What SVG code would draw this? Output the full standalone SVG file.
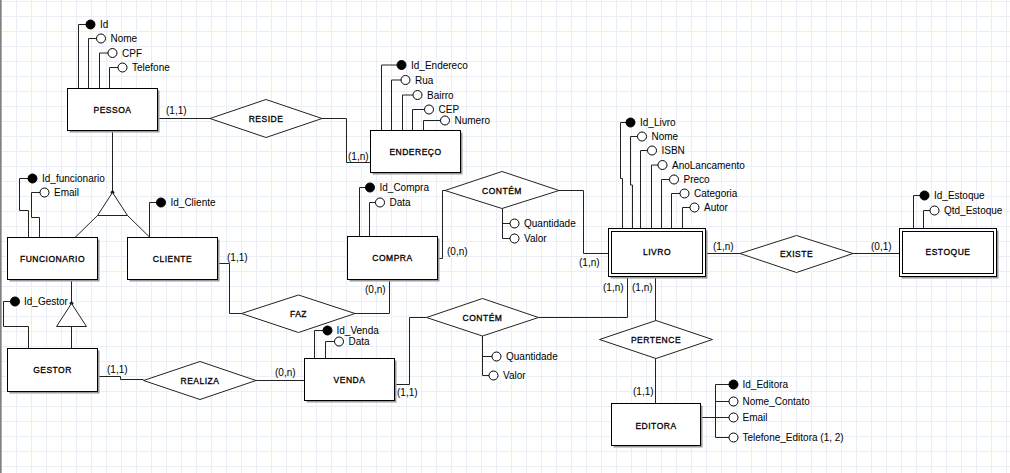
<svg xmlns="http://www.w3.org/2000/svg" width="1010" height="473" viewBox="0 0 1010 473">
<defs>
<pattern id="grid" width="15" height="15" patternUnits="userSpaceOnUse" x="1" y="1">
<path d="M15 0.5H0.5V15" fill="none" stroke="#eaeff7" stroke-width="1"/>
</pattern>
<style>
text{font-family:"Liberation Sans",Arial,sans-serif;fill:#000}
.en{font-size:8.5px;letter-spacing:0.5px;text-anchor:middle;stroke:#000;stroke-width:0.3}
.at{font-size:10px}
.cd{font-size:10px}
.box{fill:#fff;stroke:#000;stroke-width:1}
.sh{fill:#9a9a9a}
.rel{fill:#fff;stroke:#222;stroke-width:1}
.ln{fill:none;stroke:#222;stroke-width:1}
.pk{fill:#000;stroke:#000;stroke-width:1}
.op{fill:#fff;stroke:#000;stroke-width:1}
</style>
</defs>
<rect width="1010" height="473" fill="#fff"/>
<rect width="1010" height="473" fill="url(#grid)"/>
<rect x="0" y="0" width="1.6" height="473" fill="#808080"/>

<g id="connectors" class="ln">
<path d="M157.5 118.5H210"/>
<path d="M322 118.5H346.5V162.5H370.5"/>
<path d="M112.5 130.5V192.5"/>
<path d="M97.5 215.5L75 237.5"/>
<path d="M127.5 215.5L150 237.5"/>
<path d="M71.5 279.5V303.5"/>
<path d="M71.5 326.5V348.5"/>
<path d="M437.5 258.5H442.5V190.5H445"/>
<path d="M559 190.5H583.5V253.5H608.5"/>
<path d="M706 253.5H740"/>
<path d="M853 253.5H899.5"/>
<path d="M217.5 263.5H229.5V313.5H241.5"/>
<path d="M355 313.5H389.5V279.5"/>
<path d="M97.5 376.5H120.5V379.5H143.5"/>
<path d="M256 380.5H304.5"/>
<path d="M394.5 384.5H409.5V317.5H426.5"/>
<path d="M538.5 317.5H627.5V276.5"/>
<path d="M655.5 276.5V320.5"/>
<path d="M655.5 358.5V403.5"/>
<circle cx="112.5" cy="192.5" r="1.5" fill="#000"/>
<circle cx="71.5" cy="303.5" r="1.5" fill="#000"/>
</g>
<g id="card-labels" class="cd">
<text x="166" y="114">(1,1)</text>
<text x="348" y="160">(1,n)</text>
<text x="447" y="255">(0,n)</text>
<text x="579" y="266">(1,n)</text>
<text x="713" y="250">(1,n)</text>
<text x="871" y="250">(0,1)</text>
<text x="227" y="261">(1,1)</text>
<text x="365" y="293">(0,n)</text>
<text x="107" y="373">(1,1)</text>
<text x="275" y="376">(0,n)</text>
<text x="397" y="396">(1,1)</text>
<text x="603" y="291">(1,n)</text>
<text x="632" y="291">(1,n)</text>
<text x="633" y="395">(1,1)</text>
</g>

<g id="pessoa">
<path class="ln" d="M78.5 88.5V24.5H86M88.5 88.5V38.5H96.5M99.5 88.5V53H108M109.5 88.5V67.5H118"/>
<circle class="pk" cx="90.5" cy="24.5" r="4.5"/><text class="at" x="100" y="28">Id</text>
<circle class="op" cx="101" cy="38.5" r="4.5"/><text class="at" x="110.5" y="42">Nome</text>
<circle class="op" cx="112.5" cy="53" r="4.5"/><text class="at" x="122" y="56.5">CPF</text>
<circle class="op" cx="122.5" cy="67.5" r="4.5"/><text class="at" x="132" y="71">Telefone</text>
<rect class="sh" x="69.5" y="90.5" width="90" height="42"/>
<rect class="box" x="67.5" y="88.5" width="90" height="42"/>
<text class="en" x="112.5" y="112.5">PESSOA</text>
</g>

<g id="reside">
<polygon class="rel" points="210,118.5 266,99.5 322,118.5 266,137.5"/>
<text class="en" x="266" y="121.5">RESIDE</text>
</g>

<g id="endereco">
<path class="ln" d="M381.5 130.5V65H397M391.5 130.5V80H401M402.5 130.5V95H413M412.5 130.5V109.5H424.5M423.5 130.5V120.5H440.5"/>
<circle class="pk" cx="401.5" cy="65" r="4.5"/><text class="at" x="411" y="68.5">Id_Endereco</text>
<circle class="op" cx="405.5" cy="80" r="4.5"/><text class="at" x="415" y="83.5">Rua</text>
<circle class="op" cx="417.5" cy="95" r="4.5"/><text class="at" x="427" y="98.5">Bairro</text>
<circle class="op" cx="429" cy="109.5" r="4.5"/><text class="at" x="438.5" y="113">CEP</text>
<circle class="op" cx="445" cy="120.5" r="4.5"/><text class="at" x="454.5" y="124">Numero</text>
<rect class="sh" x="372.5" y="132.5" width="90" height="42"/>
<rect class="box" x="370.5" y="130.5" width="90" height="42"/>
<text class="en" x="415.5" y="154.5">ENDEREÇO</text>
</g>

<g id="funcionario">
<path class="ln" d="M28.5 237.5V210.5H19.5V178.5H28M39.5 237.5V217.5H31.5V192.5H40"/>
<circle class="pk" cx="32.5" cy="178.5" r="4.5"/><text class="at" x="42" y="182">Id_funcionario</text>
<circle class="op" cx="44.5" cy="192.5" r="4.5"/><text class="at" x="54" y="196">Email</text>
<rect class="sh" x="9.5" y="239.5" width="90" height="42"/>
<rect class="box" x="7.5" y="237.5" width="90" height="42"/>
<text class="en" x="52.5" y="261.5">FUNCIONARIO</text>
</g>

<g id="heranca-pessoa">
<polygon class="rel" points="112.5,192.5 127.5,215.5 97.5,215.5"/>
</g>

<g id="cliente">
<path class="ln" d="M149.5 237.5V202.5H156.5"/>
<circle class="pk" cx="161" cy="202.5" r="4.5"/><text class="at" x="170.5" y="206">Id_Cliente</text>
<rect class="sh" x="129.5" y="239.5" width="90" height="42"/>
<rect class="box" x="127.5" y="237.5" width="90" height="42"/>
<text class="en" x="172.5" y="261.5">CLIENTE</text>
</g>

<g id="heranca-funcionario">
<polygon class="rel" points="71.5,303.5 86.5,326.5 56.5,326.5"/>
</g>

<g id="gestor">
<path class="ln" d="M28.5 348.5V326.5H3.5V301.5H10.5"/>
<circle class="pk" cx="15" cy="301.5" r="4.5"/><text class="at" x="24" y="305">Id_Gestor</text>
<rect class="sh" x="9.5" y="350.5" width="90" height="43"/>
<rect class="box" x="7.5" y="348.5" width="90" height="43"/>
<text class="en" x="52.5" y="373">GESTOR</text>
</g>

<g id="realiza">
<polygon class="rel" points="143.5,380.5 200,361.5 256,380.5 200,399.5"/>
<text class="en" x="200" y="383.5">REALIZA</text>
</g>

<g id="faz">
<polygon class="rel" points="241.5,313.5 298.5,295 355,313.5 298.5,332.5"/>
<text class="en" x="298.5" y="317">FAZ</text>
</g>

<g id="compra">
<path class="ln" d="M359.5 236.5V187.5H365.5M369.5 236.5V202.5H375.5"/>
<circle class="pk" cx="370" cy="187.5" r="4.5"/><text class="at" x="379.5" y="191">Id_Compra</text>
<circle class="op" cx="380" cy="202.5" r="4.5"/><text class="at" x="389.5" y="206">Data</text>
<rect class="sh" x="349.5" y="238.5" width="90" height="43"/>
<rect class="box" x="347.5" y="236.5" width="90" height="43"/>
<text class="en" x="392.5" y="261">COMPRA</text>
</g>

<g id="contem-compra">
<path class="ln" d="M502.5 208.5V238.5H510M502.5 223.5H510"/>
<polygon class="rel" points="445,190.5 502,171.5 559,190.5 502,208.5"/>
<text class="en" x="502" y="193.5">CONTÉM</text>
<circle class="op" cx="514.5" cy="223.5" r="4.5"/><text class="at" x="524" y="227">Quantidade</text>
<circle class="op" cx="514.5" cy="238.5" r="4.5"/><text class="at" x="524" y="242">Valor</text>
</g>

<g id="venda">
<path class="ln" d="M314.5 358.5V330.5H323M325.5 358.5V341.5H334.5"/>
<circle class="pk" cx="327.5" cy="330.5" r="4.5"/><text class="at" x="336.5" y="334">Id_Venda</text>
<circle class="op" cx="339" cy="341.5" r="4.5"/><text class="at" x="348.5" y="345">Data</text>
<rect class="sh" x="306.5" y="360.5" width="90" height="42"/>
<rect class="box" x="304.5" y="358.5" width="90" height="42"/>
<text class="en" x="349.5" y="383">VENDA</text>
</g>

<g id="contem-venda">
<path class="ln" d="M482.5 336V375.5H489M482.5 356.5H492"/>
<polygon class="rel" points="426.5,317.5 482.5,298.5 538.5,317.5 482.5,336"/>
<text class="en" x="482.5" y="320.5">CONTÉM</text>
<circle class="op" cx="496.5" cy="356.5" r="4.5"/><text class="at" x="506" y="360">Quantidade</text>
<circle class="op" cx="493.5" cy="375.5" r="4.5"/><text class="at" x="503" y="379">Valor</text>
</g>

<g id="livro">
<path class="ln" d="M622.5 228.5V178.5H620.5V122.5H626M632.5 228.5V185H630.5V136.5H637.5M640.5 228.5V150.5H647.5M651.5 228.5V165H658M661.5 228.5V179.5H669.5M671.5 228.5V193.5H680M682.5 228.5V207.5H690"/>
<circle class="pk" cx="630.5" cy="122.5" r="4.5"/><text class="at" x="640" y="126">Id_Livro</text>
<circle class="op" cx="642" cy="136.5" r="4.5"/><text class="at" x="651.5" y="140">Nome</text>
<circle class="op" cx="652" cy="150.5" r="4.5"/><text class="at" x="661.5" y="154">ISBN</text>
<circle class="op" cx="662.5" cy="165" r="4.5"/><text class="at" x="672" y="168.5">AnoLancamento</text>
<circle class="op" cx="674" cy="179.5" r="4.5"/><text class="at" x="683.5" y="183">Preco</text>
<circle class="op" cx="684.5" cy="193.5" r="4.5"/><text class="at" x="694" y="197">Categoria</text>
<circle class="op" cx="694.5" cy="207.5" r="4.5"/><text class="at" x="704" y="211">Autor</text>
<rect class="sh" x="610.5" y="230.5" width="97" height="48"/>
<rect class="box" x="608.5" y="228.5" width="97" height="48"/>
<rect class="box" x="611.5" y="231.5" width="91" height="42"/>
<text class="en" x="657" y="255">LIVRO</text>
</g>

<g id="existe">
<polygon class="rel" points="740,253.5 796.5,235.5 853,253.5 796.5,272.5"/>
<text class="en" x="796.5" y="257">EXISTE</text>
</g>

<g id="estoque">
<path class="ln" d="M913.5 228.5V195.5H920M923.5 228.5V210.5H930"/>
<circle class="pk" cx="924.5" cy="195.5" r="4.5"/><text class="at" x="934" y="199">Id_Estoque</text>
<circle class="op" cx="934.5" cy="210.5" r="4.5"/><text class="at" x="944" y="214">Qtd_Estoque</text>
<rect class="sh" x="901.5" y="230.5" width="97" height="48"/>
<rect class="box" x="899.5" y="228.5" width="97" height="48"/>
<rect class="box" x="902.5" y="231.5" width="91" height="42"/>
<text class="en" x="948" y="255">ESTOQUE</text>
</g>

<g id="pertence">
<polygon class="rel" points="599.5,339.5 656,320.5 712.5,339.5 656,358.5"/>
<text class="en" x="656" y="343">PERTENCE</text>
</g>

<g id="editora">
<path class="ln" d="M700.5 417.5H715.5M715.5 384.5V437.5M715.5 384.5H729M715.5 401.5H729M715.5 417.5H729M715.5 437.5H729"/>
<circle class="pk" cx="733.5" cy="384.5" r="4.5"/><text class="at" x="742.5" y="388">Id_Editora</text>
<circle class="op" cx="733.5" cy="401.5" r="4.5"/><text class="at" x="742.5" y="405">Nome_Contato</text>
<circle class="op" cx="733.5" cy="417.5" r="4.5"/><text class="at" x="742.5" y="421">Email</text>
<circle class="op" cx="733.5" cy="437.5" r="4.5"/><text class="at" x="742.5" y="441">Telefone_Editora (1, 2)</text>
<rect class="sh" x="613.5" y="405.5" width="89" height="42"/>
<rect class="box" x="611.5" y="403.5" width="89" height="42"/>
<text class="en" x="656" y="428.5">EDITORA</text>
</g>
</svg>
